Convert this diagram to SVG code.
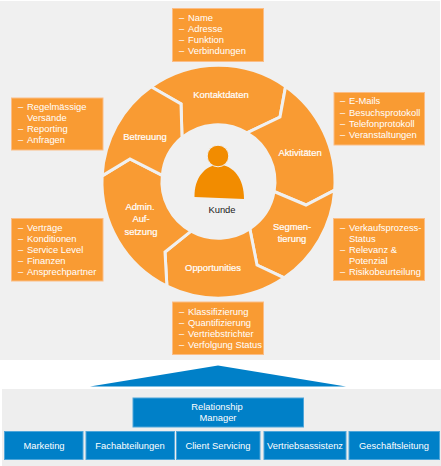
<svg xmlns="http://www.w3.org/2000/svg" width="441" height="466" viewBox="0 0 441 466">
<style>
text{font-family:"Liberation Sans",Arial,sans-serif;font-size:9.4px;fill:#fff}
.m{text-anchor:middle}
.seg{fill:#f99b33;stroke:#f0f0f0;stroke-width:3;stroke-linejoin:miter}
.box{fill:#f99b33;stroke:#fbbd86;stroke-width:1}
.blue{fill:#0080c8;stroke:#4fa6da;stroke-width:1}
.lbl{stroke:#fff;stroke-width:.2}
</style>
<rect x="0" y="1" width="440" height="359" fill="#f0f0f0"/>
<rect x="2" y="389" width="439" height="77" fill="#eeeeee"/>
<g id="ring">
<g id="seg-kontaktdaten"><path class="seg" d="M151.1 86.7A116.5 116.5 0 0 1 285.6 86.4L280 117L246.9 132.9A56.5 56.5 0 0 0 182 137.5L181 104Z"/><text class="m lbl" x="221" y="98">Kontaktdaten</text></g>
<g id="seg-aktivitaeten"><path class="seg" d="M285.6 86.4A116.5 116.5 0 0 1 334.7 190.1L306 205L274.1 191.5A56.5 56.5 0 0 0 246.9 132.9L280 117Z"/><text class="m lbl" x="300" y="156">Aktivitäten</text></g>
<g id="seg-segmentierung"><path class="seg" d="M334.7 190.1A116.5 116.5 0 0 1 284.2 277.8L257 265L249.8 228.7A56.5 56.5 0 0 0 274.1 191.5L306 205Z"/><text class="m lbl" x="292" y="229.5">Segmen-</text><text class="m lbl" x="292" y="242">tierung</text></g>
<g id="seg-opportunities"><path class="seg" d="M284.2 277.8A116.5 116.5 0 0 1 166.9 286.1L165 252L191.1 231.1A56.5 56.5 0 0 0 249.8 228.7L257 265Z"/><text class="m lbl" x="213" y="271">Opportunities</text></g>
<g id="seg-admin"><path class="seg" d="M166.9 286.1A116.5 116.5 0 0 1 102.1 175.9L130 159L162.3 175.3A56.5 56.5 0 0 0 191.1 231.1L165 252Z"/><text class="m lbl" x="140" y="210">Admin.</text><text class="m lbl" x="141" y="222">Auf-</text><text class="m lbl" x="141" y="234.5">setzung</text></g>
<g id="seg-betreuung"><path class="seg" d="M102.1 175.9A116.5 116.5 0 0 1 151.1 86.7L181 104L182 137.5A56.5 56.5 0 0 0 162.3 175.3L130 159Z"/><text class="m lbl" x="145" y="140">Betreuung</text></g>
</g>
<g id="kunde"><path d="M194.5 197C194 178 205 165 219 165C233 165 244 178 244 199Z" fill="#f28c00"/><circle cx="218" cy="156" r="10.8" fill="#f28c00" stroke="#f0f0f0" stroke-width="1"/><text class="m" x="222" y="213" style="fill:#1a1a1a">Kunde</text></g>
<g id="box-kontakt"><rect class="box" x="172.5" y="8.5" width="91" height="53"/><text x="179" y="21">–</text><text x="188" y="21">Name</text><text x="179" y="32">–</text><text x="188" y="32">Adresse</text><text x="179" y="43">–</text><text x="188" y="43">Funktion</text><text x="179" y="54">–</text><text x="188" y="54">Verbindungen</text></g>
<g id="box-betreuung"><rect class="box" x="11.5" y="98" width="91.5" height="52"/><text x="18" y="110">–</text><text x="27" y="110">Regelmässige</text><text x="27" y="121">Versände</text><text x="18" y="132">–</text><text x="27" y="132">Reporting</text><text x="18" y="143">–</text><text x="27" y="143">Anfragen</text></g>
<g id="box-aktivitaeten"><rect class="box" x="334" y="92.5" width="90.5" height="52.5"/><text x="340" y="104">–</text><text x="349" y="104">E-Mails</text><text x="340" y="116">–</text><text x="349" y="116">Besuchsprotokoll</text><text x="340" y="127">–</text><text x="349" y="127">Telefonprotokoll</text><text x="340" y="138">–</text><text x="349" y="138">Veranstaltungen</text></g>
<g id="box-admin"><rect class="box" x="11.5" y="218.5" width="91.5" height="62.5"/><text x="18" y="231">–</text><text x="27" y="231">Verträge</text><text x="18" y="242">–</text><text x="27" y="242">Konditionen</text><text x="18" y="253">–</text><text x="27" y="253">Service Level</text><text x="18" y="264">–</text><text x="27" y="264">Finanzen</text><text x="18" y="275">–</text><text x="27" y="275">Ansprechpartner</text></g>
<g id="box-segment"><rect class="box" x="333.5" y="218.5" width="91" height="62"/><text x="340" y="231">–</text><text x="349" y="231">Verkaufsprozess-</text><text x="349" y="242">Status</text><text x="340" y="253">–</text><text x="349" y="253">Relevanz &amp;</text><text x="349" y="264">Potenzial</text><text x="340" y="275">–</text><text x="349" y="275">Risikobeurteilung</text></g>
<g id="box-opportunities"><rect class="box" x="172.5" y="302" width="91" height="52.5"/><text x="179" y="315">–</text><text x="188" y="315">Klassifizierung</text><text x="179" y="326">–</text><text x="188" y="326">Quantifizierung</text><text x="179" y="337">–</text><text x="188" y="337">Vertriebstrichter</text><text x="179" y="348">–</text><text x="188" y="348">Verfolgung Status</text></g>
<polygon id="pyramid" points="218,365.5 346,386.5 90,386.5" fill="#0080c8"/>
<g id="relationship-manager"><rect class="blue" x="133" y="398" width="170.5" height="29"/><text class="m" x="217" y="410">Relationship</text><text class="m" x="218" y="421">Manager</text></g>
<g id="marketing"><rect class="blue" x="4.5" y="431.5" width="78.5" height="28"/><text class="m" x="44" y="449">Marketing</text></g>
<g id="fachabteilungen"><rect class="blue" x="86" y="431.5" width="88.5" height="28"/><text class="m" x="130" y="449">Fachabteilungen</text></g>
<g id="client-servicing"><rect class="blue" x="176.5" y="431.5" width="83.5" height="28"/><text class="m" x="218" y="449">Client Servicing</text></g>
<g id="vertriebsassistenz"><rect class="blue" x="264" y="431.5" width="82" height="28"/><text class="m" x="305" y="449">Vertriebsassistenz</text></g>
<g id="geschaeftsleitung"><rect class="blue" x="349" y="431.5" width="90.5" height="28"/><text class="m" x="394" y="449">Geschäftsleitung</text></g>
</svg>
